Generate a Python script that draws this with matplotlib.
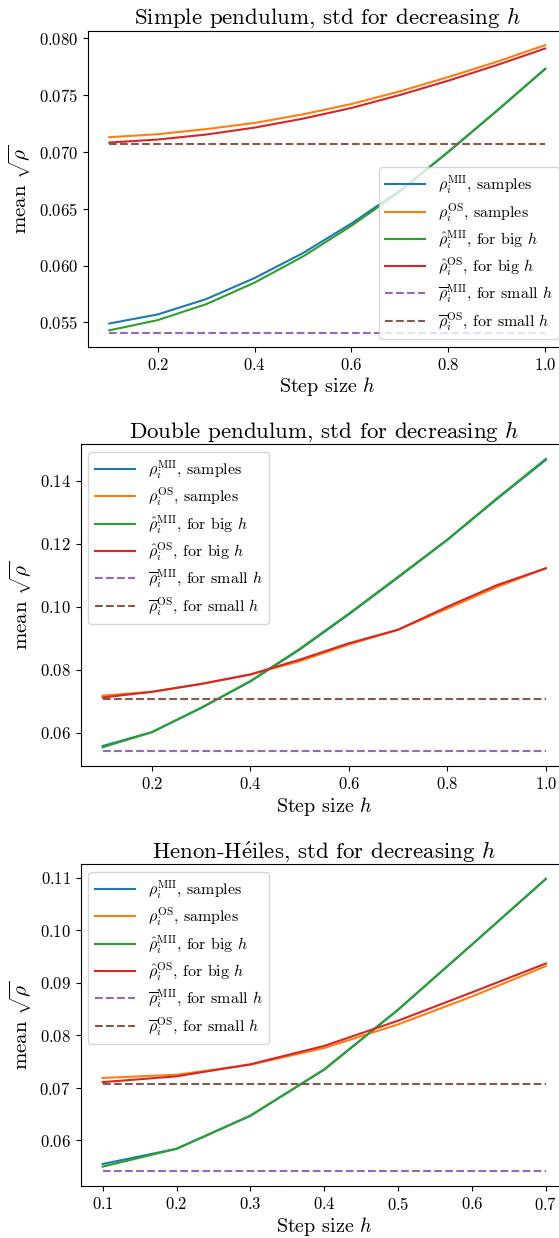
import numpy as np
import matplotlib
matplotlib.use('Agg')
import matplotlib.pyplot as plt

plt.rcParams.update({
    'font.family': 'serif',
    'font.serif': ['cmr10'],
    'mathtext.fontset': 'cm',
    'axes.formatter.use_mathtext': True,
    'font.size': 12,
})

# --- data: mean sqrt(rho) against step size h ---
h_simple = [0.1, 0.2, 0.3, 0.4, 0.5, 0.6, 0.7, 0.8, 0.9, 1.0]
simple_mii = [0.0549, 0.0557, 0.05705, 0.0589, 0.0611, 0.0637, 0.0666, 0.0700, 0.0736, 0.0773]
simple_os = [0.07129, 0.07155, 0.0720, 0.07254, 0.0733, 0.07421, 0.07532, 0.07658, 0.07792, 0.07939]
simple_mii_big = [0.0543, 0.0552, 0.0566, 0.0585, 0.0608, 0.0635, 0.0665, 0.0700, 0.0736, 0.0773]
simple_os_big = [0.07082, 0.07108, 0.07152, 0.07213, 0.07292, 0.07386, 0.0750, 0.07626, 0.07763, 0.07909]

h_double = [0.1, 0.2, 0.3, 0.4, 0.5, 0.6, 0.7, 0.8, 0.9, 1.0]
double_mii = [0.0558, 0.0602, 0.0679, 0.0763, 0.0864, 0.0976, 0.1093, 0.1212, 0.1341, 0.1466]
double_os = [0.0718, 0.0730, 0.0755, 0.0785, 0.0827, 0.0880, 0.0927, 0.0994, 0.1062, 0.1122]
double_mii_big = [0.0554, 0.0602, 0.0679, 0.0764, 0.0866, 0.0978, 0.1095, 0.1213, 0.1343, 0.1469]
double_os_big = [0.0712, 0.0730, 0.0755, 0.0785, 0.0832, 0.0884, 0.0927, 0.1000, 0.1068, 0.1122]

h_henon = [0.1, 0.2, 0.3, 0.4, 0.5, 0.6, 0.7]
henon_mii = [0.0555, 0.0584, 0.0647, 0.0735, 0.0849, 0.0973, 0.1098]
henon_os = [0.0719, 0.0725, 0.0744, 0.0776, 0.0821, 0.0874, 0.0932]
henon_mii_big = [0.0550, 0.0584, 0.0647, 0.0735, 0.0849, 0.0973, 0.1098]
henon_os_big = [0.0711, 0.0722, 0.0745, 0.0780, 0.0828, 0.0882, 0.0937]

# small-h limits, identical for all three systems
rho_bar_mii = 0.0541
rho_bar_os = 0.0707

panels = [
    ('Simple pendulum', h_simple, simple_mii, simple_os, simple_mii_big, simple_os_big, 'lower right'),
    ('Double pendulum', h_double, double_mii, double_os, double_mii_big, double_os_big, 'upper left'),
    (r'Henon-H$\mathrm{\acute{e}}$iles', h_henon, henon_mii, henon_os, henon_mii_big, henon_os_big, 'upper left'),
]

# axes boxes in pixels: left, right, top, bottom
boxes = [(87.5, 567, 30.7, 347), (80.5, 568, 444.3, 766), (80.5, 568, 864.3, 1186)]

W, H = 559, 1238
fig = plt.figure(figsize=(W / 100, H / 100), dpi=100)

for (name, h, mii, os_, mii_big, os_big, loc), (l, r, t, b) in zip(panels, boxes):
    ax = fig.add_axes([l / W, 1 - b / H, (r - l) / W, (b - t) / H])
    ax.plot(h, mii, color='C0', label=r'$\rho_i^{\mathrm{MII}}$, samples')
    ax.plot(h, os_, color='C1', label=r'$\rho_i^{\mathrm{OS}}$, samples')
    ax.plot(h, mii_big, color='C2', label=r'$\hat{\rho}_i^{\mathrm{MII}}$, for big $h$')
    ax.plot(h, os_big, color='C3', label=r'$\hat{\rho}_i^{\mathrm{OS}}$, for big $h$')
    ax.plot(h, [rho_bar_mii] * len(h), '--', color='C4',
            label=r'$\overline{\rho}_i^{\mathrm{MII}}$, for small $h$')
    ax.plot(h, [rho_bar_os] * len(h), '--', color='C5',
            label=r'$\overline{\rho}_i^{\mathrm{OS}}$, for small $h$')
    ax.set_title(name + r', std for decreasing $h$', fontsize=16.5, pad=5)
    ax.set_xlabel(r'Step size $h$', fontsize=14.5, labelpad=2)
    ax.set_ylabel(r'mean $\sqrt{\rho}$', fontsize=15)
    ax.legend(loc=loc, fontsize=11.5, labelspacing=0.3, handlelength=2.5)

fig.savefig('out.png', dpi=100)
